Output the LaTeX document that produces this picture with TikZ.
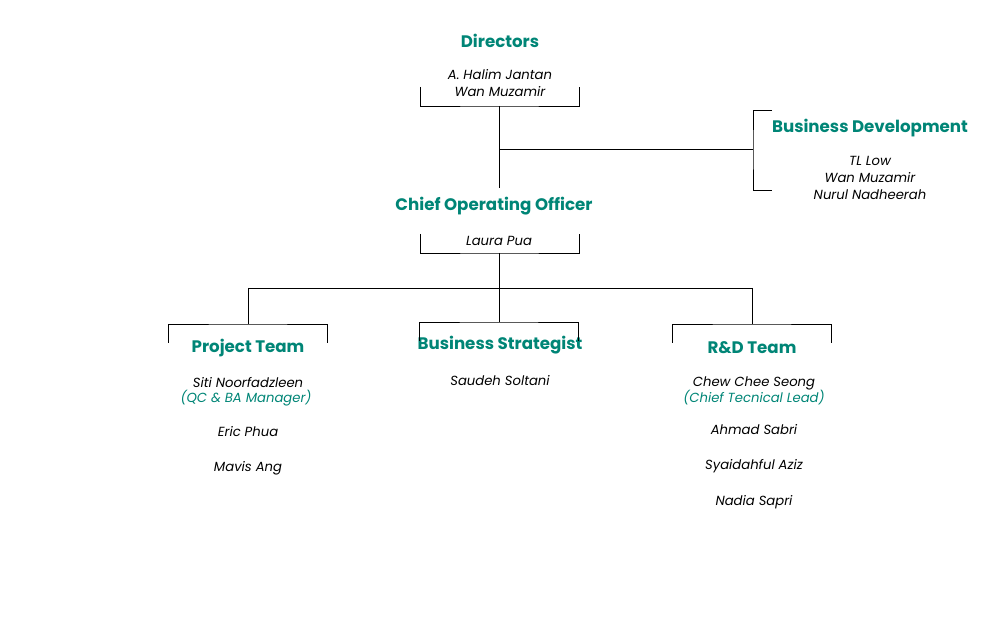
\documentclass[tikz,border=0pt]{standalone}
\usepackage{fontspec}
\setmainfont{Poppins}
\definecolor{teal1}{RGB}{0,133,118}
\begin{document}
\begin{tikzpicture}[x=0.75pt,y=-0.75pt,
  title/.style={font=\fontsize{12.5}{14}\selectfont\bfseries, text=teal1, inner sep=0pt, anchor=center},
  person/.style={font=\fontsize{9.9}{11}\selectfont\itshape, text=black, inner sep=0pt, anchor=center},
  role/.style={font=\fontsize{9.9}{11}\selectfont\itshape, text=teal1, inner sep=0pt, anchor=center},
  conn/.style={draw=black, line width=0.6pt}]
\useasboundingbox (0,0) rectangle (1000,620);
% texts
\node[title] (dir) at (500,41) {Directors};
\node[person] (dir1) at (500,75) {A. Halim Jantan};
\node[person] (dir2) at (500,92) {Wan Muzamir};
\node[title] (bd) at (870,128) {Business Development};
\node[person] (bd1) at (870,161) {TL Low};
\node[person] (bd2) at (870,178) {Wan Muzamir};
\node[person] (bd3) at (870,195) {Nurul Nadheerah};
\node[title] (coo) at (494,206) {Chief Operating Officer};
\node[person] (coo1) at (499,241) {Laura Pua};
\node[title] (pt) at (248,348) {Project Team};
\node[person] (pt1) at (248,383) {Siti Noorfadzleen};
\node[role] (pt1r) at (246,398) {(QC \& BA Manager)};
\node[person] (pt2) at (248,432) {Eric Phua};
\node[person] (pt3) at (248,468) {Mavis Ang};
\node[title] (bs) at (500,345) {Business Strategist};
\node[person] (bs1) at (500,381) {Saudeh Soltani};
\node[title] (rd) at (752,348) {R\&D Team};
\node[person] (rd1) at (754,383) {Chew Chee Seong};
\node[role] (rd1r) at (754,398) {(Chief Tecnical Lead)};
\node[person] (rd2) at (754,430) {Ahmad Sabri};
\node[person] (rd3) at (754,466) {Syaidahful Aziz};
\node[person] (rd4) at (754,502) {Nadia Sapri};
% coordinates
\coordinate (dirL) at (420,87); \coordinate (dirR) at (579,87);
\coordinate (dirB) at (499,106);
\coordinate (cooT) at (499,188);
\coordinate (bdJ) at (499,149);
\coordinate (bdV) at (753,149);
\coordinate (cooL) at (420,234); \coordinate (cooR) at (579,234);
\coordinate (cooB) at (499,253);
\coordinate (busJ) at (499,288);
\coordinate (ptJ) at (248,288); \coordinate (rdJ) at (752,288);
\coordinate (ptT) at (248,324); \coordinate (bsT) at (499,322); \coordinate (rdT) at (752,324);
% brackets
\draw[conn] (dirL) |- (dirB) -| (dirR);
\draw[conn] (cooL) |- (cooB) -| (cooR);
\draw[conn] (772,110) -| (bdV) |- (772,190);
\draw[conn] (168,343) |- (ptT) -| (327,343);
\draw[conn] (419,341) |- (bsT) -| (578,341);
\draw[conn] (672,343) |- (rdT) -| (831,343);
% connectors
\draw[conn] (dirB) -- (cooT);
\draw[conn] (bdJ) -- (bdV);
\draw[conn] (cooB) -- (busJ);
\draw[conn] (ptJ) -- (rdJ);
\draw[conn] (ptJ) -- (ptT);
\draw[conn] (busJ) -- (bsT);
\draw[conn] (rdJ) -- (rdT);
\end{tikzpicture}
\end{document}
